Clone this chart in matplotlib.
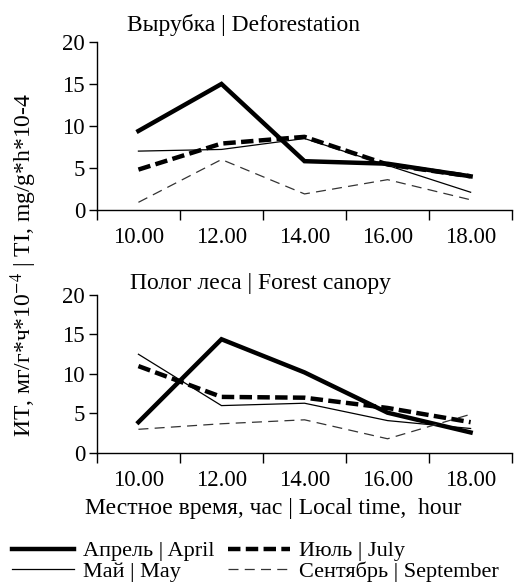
import matplotlib.pyplot as plt
import numpy as np

plt.rcParams['font.family'] = ['Liberation Serif', 'DejaVu Serif']
plt.rcParams['mathtext.fontset'] = 'stix'

hours = ['10.00', '12.00', '14.00', '16.00', '18.00']
months = ['Апрель | April', 'Май | May', 'Июль | July', 'Сентябрь | September']

# Вырубка | Deforestation
cut_april = [9.4, 15.0, 5.8, 5.5, 4.0]
cut_may = [7.0, 7.2, 8.5, 5.3, 2.1]
cut_july = [4.8, 7.9, 8.7, 5.4, 4.0]
cut_sept = [0.9, 6.0, 1.9, 3.6, 1.2]

# Полог леса | Forest canopy
can_april = [3.9, 14.4, 10.2, 5.1, 2.6]
can_may = [12.5, 6.0, 6.3, 4.1, 3.1]
can_july = [11.0, 7.1, 7.0, 5.7, 3.9]
can_sept = [3.0, 3.7, 4.2, 1.8, 4.9]

styles = [
    dict(color='black', lw=3.2, ls='-'),
    dict(color='black', lw=0.9, ls='-'),
    dict(color='black', lw=3.2, ls=(0, (2.8, 1.2))),
    dict(color='#333333', lw=0.9, ls=(0, (8, 5))),
]

fig = plt.figure(figsize=(5.21, 5.83), dpi=100)
ax1 = fig.add_axes([0.186, 0.640, 0.797, 0.288])
ax2 = fig.add_axes([0.186, 0.223, 0.797, 0.271])

x = np.arange(len(hours))


def draw(ax, series, title, title_x, title_y):
    lines = []
    for vals, st in zip(series, styles):
        ln, = ax.plot(x, vals, solid_joinstyle='miter', **st)
        lines.append(ln)
    ax.set_xlim(-0.5, len(hours) - 0.5)
    ax.set_ylim(0, 20)
    ax.set_yticks([0, 5, 10, 15, 20])
    ax.set_xticks(x)
    ax.set_xticklabels(hours)
    ax.set_xticks(np.arange(len(hours) + 1) - 0.5, minor=True)
    ax.tick_params(axis='x', which='major', length=0, pad=12, labelsize=16.5)
    ax.tick_params(axis='x', which='minor', length=7, width=1)
    ax.tick_params(axis='y', length=6, width=1, pad=2.5, labelsize=16.5)
    for s in ['top', 'right']:
        ax.spines[s].set_visible(False)
    for s in ['left', 'bottom']:
        ax.spines[s].set_linewidth(1)
    ax.text(title_x, title_y, title, transform=ax.transAxes, ha='center',
            va='center', fontsize=17)
    return lines


lines = draw(ax1, [cut_april, cut_may, cut_july, cut_sept],
             'Вырубка | Deforestation', 0.352, 1.10)
draw(ax2, [can_april, can_may, can_july, can_sept],
     'Полог леса | Forest canopy', 0.393, 1.075)

fig.text(0.045, 0.545, 'ИТ, мг/г*ч*10$^{-4}$ | TI, mg/g*h*10-4',
         rotation=90, ha='center', va='center', fontsize=17)
fig.text(0.525, 0.127, 'Местное время, час | Local time,  hour',
         ha='center', va='center', fontsize=17)

fig.legend(lines, months, ncol=2, frameon=False, loc='lower left',
           bbox_to_anchor=(0.023, 0.002), fontsize=16, handlelength=2.8,
           handletextpad=0.4, columnspacing=0.6, labelspacing=0.0,
           borderpad=0, borderaxespad=0)

fig.savefig('out.png', dpi=100)
